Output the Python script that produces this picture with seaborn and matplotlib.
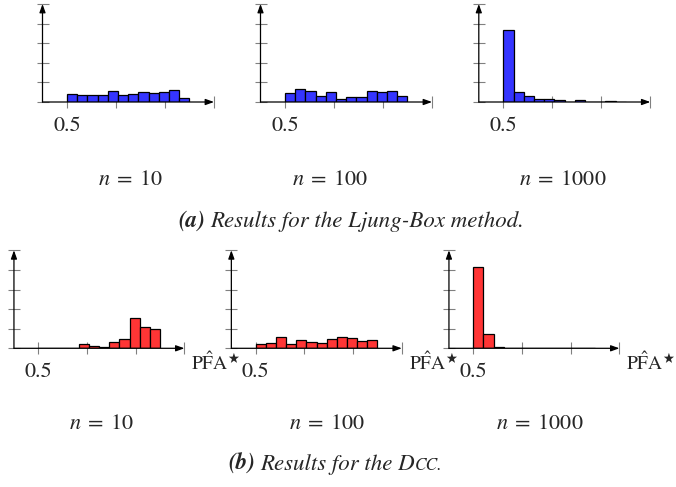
import numpy as np
import pandas as pd
import matplotlib
matplotlib.use("Agg")
import matplotlib.pyplot as plt
import seaborn as sns

# ---- data (heights in y-tick units) ----
bin_start = 0.5
n_bins = 12
bin_width = 0.25 / 12
x_ticks = [0.5, 0.6, 0.7, 0.8]
x_tick_labels = ["0.5", "", "", ""]
y_ticks = [0, 1, 2, 3, 4, 5]

sample_sizes = ["10", "100", "1000"]

ljung_n10 = [0.39, 0.34, 0.34, 0.34, 0.56, 0.34, 0.39, 0.49, 0.44, 0.49, 0.60, 0.19]
ljung_n100 = [0.44, 0.65, 0.56, 0.29, 0.49, 0.14, 0.24, 0.24, 0.56, 0.49, 0.56, 0.29]
ljung_n1000 = [3.66, 0.49, 0.29, 0.15, 0.15, 0.10, 0.02, 0.10, 0.01, 0.02, 0.07, 0.02]

dcc_n10 = [0.0, 0.0, 0.0, 0.03, 0.24, 0.12, 0.05, 0.34, 0.49, 1.55, 1.09, 0.99]
dcc_n100 = [0.24, 0.29, 0.58, 0.24, 0.44, 0.34, 0.29, 0.48, 0.58, 0.53, 0.37, 0.44]
dcc_n1000 = [4.13, 0.71, 0.05, 0.03, 0.0, 0.0, 0.0, 0.0, 0.0, 0.0, 0.0, 0.0]

caption_a = "Results for the Ljung-Box method."
caption_b_pre = "Results for the "

sns.set_style("white")
plt.rcParams["font.family"] = ["STIXGeneral", "DejaVu Serif"]
plt.rcParams["mathtext.fontset"] = "stix"

W, H = 676, 487
fig = plt.figure(figsize=(W / 100, H / 100), dpi=100)

edges = [float(bin_start + bin_width * i) for i in range(n_bins + 1)]
centers = [float(edges[i] + bin_width / 2) for i in range(n_bins)]

BLUE = "#3535ff"
RED = "#ff3535"

def make_ax(tick05_px, ybase_px, px_per_tenth, height_px=98):
    left = tick05_px - 0.5 * px_per_tenth
    width = 3.5 * px_per_tenth
    return fig.add_axes([left / W, (H - ybase_px) / H, width / W, height_px / H])

def draw_panel(ax, values, color, xlabel=False):
    df = pd.DataFrame({"x": centers, "w": values})
    sns.histplot(data=df, x="x", weights="w", bins=edges, ax=ax,
                 color=color, edgecolor="black", linewidth=0.9, alpha=1.0)
    ax.set_xlim(0.45, 0.8)
    ax.set_ylim(0, 5)
    for s in ax.spines.values():
        s.set_visible(False)
    ax.set_xlabel("")
    ax.set_ylabel("")
    ax.set_xticks(x_ticks)
    ax.set_xticklabels(x_tick_labels, fontsize=16)
    ax.set_yticks(y_ticks)
    ax.set_yticklabels([])
    ax.tick_params(axis="both", direction="inout", length=8, width=0.8,
                   color="#808080", bottom=True, left=True)
    ax.tick_params(axis="x", pad=6)
    ax.patch.set_alpha(0)
    arrow = dict(arrowstyle="-|>,head_length=0.5,head_width=0.18", color="black",
                 lw=0.9, shrinkA=0, shrinkB=0)
    ax.annotate("", xy=(1, 0), xytext=(0, 0), xycoords="axes fraction",
                arrowprops=arrow, annotation_clip=False)
    ax.annotate("", xy=(0, 1), xytext=(0, 0), xycoords="axes fraction",
                arrowprops=arrow, annotation_clip=False)
    if xlabel:
        ax.annotate(r"$\mathrm{P\hat{F}A}^{\bigstar}$", xy=(1, 0), xycoords="axes fraction",
                    xytext=(5, -2), textcoords="offset points",
                    ha="left", va="top", fontsize=14, annotation_clip=False)

# top row
top_ticks = [67, 285, 503.3]
top_vals = [ljung_n10, ljung_n100, ljung_n1000]
for t, v in zip(top_ticks, top_vals):
    ax = make_ax(t, 102, 49, 98)
    draw_panel(ax, v, BLUE)

# bottom row
bot_ticks = [38.3, 255.7, 473.3]
bot_vals = [dcc_n10, dcc_n100, dcc_n1000]
for t, v in zip(bot_ticks, bot_vals):
    ax = make_ax(t, 348.3, 48.7, 98)
    draw_panel(ax, v, RED, xlabel=True)

# sub-captions
for cx, n in zip([131, 330, 563], sample_sizes):
    fig.text(cx / W, 1 - 180 / H, r"$n\;=\;%s$" % n, ha="center", va="center", fontsize=16)
for cx, n in zip([102, 327, 540], sample_sizes):
    fig.text(cx / W, 1 - 424 / H, r"$n\;=\;%s$" % n, ha="center", va="center", fontsize=16)

# captions
host = fig.axes[0]

def caption(x_px, y_base_px, label, pieces):
    yb = 1 - y_base_px / H
    t = fig.text(x_px / W, yb, label, ha="left", va="baseline", fontsize=16.5,
                 style="italic", weight="bold")
    first = True
    for txt, size in pieces:
        t = host.annotate(txt, xy=(1, yb), xycoords=(t, "figure fraction"),
                          xytext=(4 if first else 0, 0), textcoords="offset points",
                          ha="left", va="baseline", fontsize=size,
                          style="italic", annotation_clip=False)
        first = False

caption(178, 227, "(a)", [(caption_a, 16.5)])
caption(228, 470, "(b)", [(caption_b_pre + "D", 16.5), ("CC.", 12.5)])

fig.savefig("out.png", dpi=100)
